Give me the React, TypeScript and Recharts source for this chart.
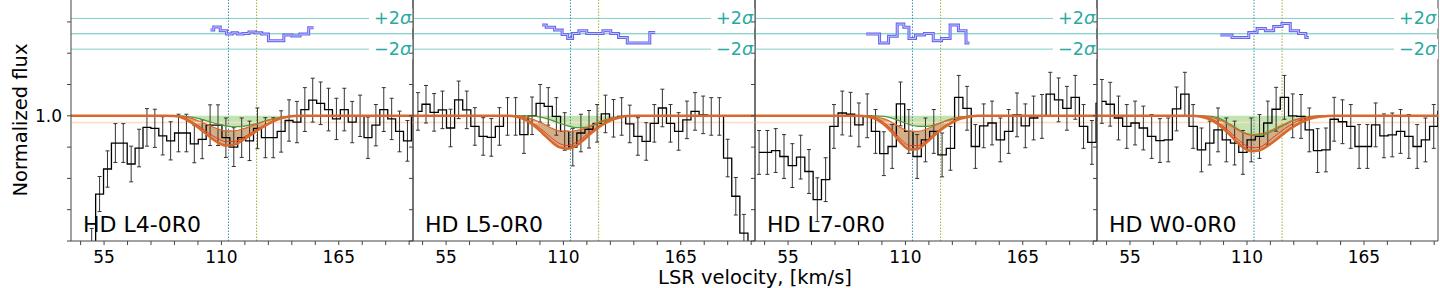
import React from "react";
import {
  ComposedChart,
  Line,
  Area,
  XAxis,
  YAxis,
  ReferenceLine,
  ErrorBar,
} from "recharts";

const FONT = "DejaVu Sans";

// axes
const X_DOMAIN: [number, number] = [39.5, 199.8];
const Y_DOMAIN: [number, number] = [0.6, 1.37];
const X_TICKS = [44, 55, 66, 77, 88, 99, 110, 121, 132, 143, 154, 165, 176, 187, 198];
const X_LABELED = [55, 110, 165];
const Y_TICKS = [0.6, 0.7, 0.8, 0.9, 1.0, 1.1, 1.2, 1.3];
const V_COMP_A = 113.3;
const V_COMP_B = 126.5;
const RES_ZERO = 1.262;
const RES_PLUS = 1.311;
const RES_MINUS = 1.213;

const PANEL_NAMES = ["HD L4-0R0", "HD L5-0R0", "HD L7-0R0", "HD W0-0R0"];

// spectra (bin centre velocity, flux, 1 sigma)
const P1_V = [38.1, 41.8, 45.5, 49.2, 52.9, 56.6, 60.3, 64.0, 67.7, 71.4, 75.1, 78.8, 82.5, 86.2, 89.9, 93.6, 97.3, 101.0, 104.7, 108.4, 112.1, 115.8, 119.5, 123.2, 126.9, 130.6, 134.3, 138.0, 141.7, 145.4, 149.1, 152.8, 156.5, 160.2, 163.9, 167.6, 171.3, 175.0, 178.7, 182.4, 186.1, 189.8, 193.5, 197.2, 200.9];
const P1_F = [0.4, 0.45, 0.5, 0.58, 0.75, 0.83, 0.913, 0.913, 0.846, 0.897, 0.963, 0.96, 0.936, 0.92, 0.945, 0.945, 0.91, 0.925, 0.97, 0.97, 0.93, 0.9, 0.93, 0.92, 0.96, 0.93, 0.93, 0.95, 0.985, 0.98, 1.02, 1.05, 1.04, 1.02, 0.99, 1.02, 0.98, 1.0, 0.93, 0.97, 1.02, 0.99, 0.95, 0.92, 1.0];
const P1_E = [0.05, 0.05, 0.05, 0.06, 0.056, 0.058, 0.062, 0.062, 0.057, 0.06, 0.06, 0.061, 0.061, 0.061, 0.06, 0.06, 0.06, 0.062, 0.065, 0.065, 0.063, 0.062, 0.063, 0.063, 0.065, 0.064, 0.064, 0.066, 0.066, 0.066, 0.07, 0.07, 0.068, 0.068, 0.066, 0.068, 0.066, 0.066, 0.066, 0.066, 0.07, 0.066, 0.065, 0.065, 0.066];

const P2_V = [41.8, 45.6, 49.4, 53.3, 57.1, 60.9, 64.7, 68.5, 72.4, 76.2, 80.0, 83.8, 87.6, 91.5, 95.3, 99.1, 102.9, 106.7, 110.6, 114.4, 118.2, 122.0, 125.8, 129.7, 133.5, 137.3, 141.1, 144.9, 148.8, 152.6, 156.4, 160.2, 164.0, 167.9, 171.7, 175.5, 179.3, 183.1, 187.0, 190.8, 194.6, 198.4];
const P2_F = [1.014, 1.037, 1.011, 1.019, 0.961, 1.051, 1.019, 0.966, 0.934, 0.931, 0.966, 0.998, 0.998, 0.94, 1.0, 1.04, 1.03, 0.998, 0.95, 0.9, 0.945, 0.957, 0.976, 1.006, 0.992, 0.998, 0.974, 0.934, 0.918, 0.976, 1.025, 0.976, 0.95, 0.987, 1.014, 1.003, 0.998, 0.998, 0.865, 0.743, 0.625, 0.5];
const P2_E = [0.06, 0.06, 0.06, 0.06, 0.06, 0.06, 0.06, 0.06, 0.06, 0.06, 0.06, 0.06, 0.06, 0.06, 0.06, 0.06, 0.06, 0.06, 0.06, 0.06, 0.06, 0.06, 0.06, 0.06, 0.06, 0.06, 0.06, 0.06, 0.06, 0.06, 0.06, 0.06, 0.06, 0.06, 0.06, 0.06, 0.06, 0.06, 0.06, 0.06, 0.06, 0.06];

const P3_V = [41.4, 45.3, 49.2, 53.1, 57.0, 60.9, 64.8, 68.7, 72.6, 76.5, 80.4, 84.3, 88.2, 92.1, 96.0, 99.9, 103.8, 107.7, 111.6, 115.5, 119.4, 123.3, 127.2, 131.1, 135.0, 138.9, 142.8, 146.7, 150.6, 154.5, 158.4, 162.3, 166.2, 170.1, 174.0, 177.9, 181.8, 185.7, 189.6, 193.5, 197.4, 201.3];
const P3_F = [0.883, 0.883, 0.889, 0.87, 0.841, 0.868, 0.822, 0.732, 0.796, 0.966, 1.009, 1.005, 0.971, 1.0, 0.95, 0.879, 0.902, 1.038, 0.95, 0.87, 0.923, 0.95, 0.875, 0.896, 1.059, 1.024, 0.902, 0.968, 0.977, 0.923, 0.95, 1.003, 0.968, 0.993, 0.998, 1.069, 1.051, 1.024, 1.059, 0.966, 0.915, 1.04];
const P3_E = [0.07, 0.07, 0.07, 0.07, 0.07, 0.07, 0.07, 0.07, 0.07, 0.07, 0.07, 0.07, 0.07, 0.07, 0.07, 0.07, 0.07, 0.07, 0.07, 0.07, 0.07, 0.07, 0.07, 0.07, 0.07, 0.07, 0.07, 0.07, 0.07, 0.07, 0.07, 0.07, 0.07, 0.07, 0.07, 0.07, 0.07, 0.07, 0.07, 0.07, 0.07, 0.07];

const P4_V = [41.8, 45.7, 49.6, 53.5, 57.4, 61.3, 65.2, 69.1, 73.0, 76.9, 80.8, 84.7, 88.6, 92.5, 96.4, 100.3, 104.2, 108.1, 112.0, 115.9, 119.8, 123.7, 127.6, 131.5, 135.4, 139.3, 143.2, 147.1, 151.0, 154.9, 158.8, 162.7, 166.6, 170.5, 174.4, 178.3, 182.2, 186.1, 190.0, 193.9, 197.8, 201.7];
const P4_F = [1.046, 1.037, 0.993, 0.966, 0.977, 0.961, 0.934, 0.921, 0.923, 1.022, 1.069, 0.966, 0.891, 0.913, 0.955, 0.923, 0.913, 0.883, 0.923, 0.934, 0.977, 1.021, 1.059, 1.0, 0.998, 0.955, 0.889, 0.891, 0.989, 0.981, 0.966, 0.902, 0.902, 0.971, 0.936, 0.939, 0.95, 0.934, 0.902, 0.923, 0.966, 1.014];
const P4_E = [0.07, 0.07, 0.07, 0.07, 0.07, 0.07, 0.07, 0.07, 0.07, 0.07, 0.07, 0.07, 0.07, 0.07, 0.07, 0.07, 0.07, 0.07, 0.07, 0.07, 0.07, 0.07, 0.07, 0.07, 0.07, 0.07, 0.07, 0.07, 0.07, 0.07, 0.07, 0.07, 0.07, 0.07, 0.07, 0.07, 0.07, 0.07, 0.07, 0.07, 0.07, 0.07];

// residuals (shown around RES_ZERO)
const R1_V = [104.9, 107.9, 111.0, 113.8, 116.2, 118.8, 121.5, 124.3, 127.4, 130.4, 133.7, 137.4, 141.1, 145.0, 148.6, 153.2];
const R1_F = [1.274, 1.284, 1.272, 1.261, 1.265, 1.261, 1.263, 1.268, 1.265, 1.261, 1.24, 1.24, 1.258, 1.255, 1.261, 1.281];
const R2_V = [100.0, 103.9, 107.8, 111.0, 113.0, 115.5, 119.0, 122.9, 126.8, 130.3, 134.1, 137.6, 142.3, 148.0, 153.0];
const R2_F = [1.29, 1.283, 1.274, 1.26, 1.247, 1.263, 1.272, 1.263, 1.263, 1.272, 1.263, 1.25, 1.233, 1.233, 1.266];
const R3_V = [91.5, 95.9, 99.9, 104.3, 108.0, 110.5, 112.8, 116.7, 121.2, 124.9, 129.0, 132.9, 136.8, 140.0];
const R3_F = [1.261, 1.261, 1.233, 1.254, 1.293, 1.283, 1.247, 1.258, 1.263, 1.24, 1.247, 1.29, 1.272, 1.233];
const R4_V = [97.5, 101.0, 104.9, 108.9, 112.8, 116.7, 120.6, 124.5, 128.4, 132.3, 136.2, 139.1];
const R4_F = [1.258, 1.258, 1.25, 1.25, 1.266, 1.279, 1.272, 1.285, 1.295, 1.272, 1.263, 1.25];

// model profiles
const PROF_V = [39.5, 84, 88, 92, 96, 100, 104, 108, 112, 116, 120, 124, 128, 132, 136, 140, 144, 148, 152, 199.8];
const M1_LO = [1, 1, 0.999, 0.993, 0.978, 0.958, 0.936, 0.916, 0.905, 0.908, 0.922, 0.94, 0.958, 0.974, 0.987, 0.995, 0.999, 1, 1, 1];
const M1_HI = [1, 1, 1, 0.998, 0.992, 0.982, 0.97, 0.959, 0.952, 0.952, 0.958, 0.967, 0.977, 0.986, 0.993, 0.997, 1, 1, 1, 1];
const M1_GR = [1, 1, 1, 0.999, 0.996, 0.99, 0.982, 0.974, 0.968, 0.965, 0.966, 0.971, 0.978, 0.986, 0.993, 0.997, 0.999, 1, 1, 1];
const M1_RED = [1, 1, 0.999, 0.995, 0.982, 0.965, 0.945, 0.928, 0.918, 0.918, 0.93, 0.946, 0.962, 0.977, 0.988, 0.995, 0.999, 1, 1, 1];
const M2_LO = [1, 1, 0.997, 0.988, 0.97, 0.946, 0.92, 0.9, 0.895, 0.905, 0.926, 0.95, 0.97, 0.985, 0.994, 0.999, 1, 1, 1, 1];
const M2_HI = [1, 1, 1, 0.996, 0.988, 0.976, 0.962, 0.952, 0.95, 0.953, 0.96, 0.972, 0.984, 0.992, 0.997, 1, 1, 1, 1, 1];
const M2_GR = [1, 1, 1, 1, 0.999, 0.995, 0.987, 0.977, 0.968, 0.962, 0.963, 0.97, 0.98, 0.989, 0.995, 0.999, 1, 1, 1, 1];
const M2_RED = [1, 1, 0.998, 0.99, 0.975, 0.955, 0.932, 0.912, 0.905, 0.915, 0.935, 0.955, 0.973, 0.987, 0.995, 0.999, 1, 1, 1, 1];
const M3_LO = [1, 1, 1, 0.998, 0.99, 0.972, 0.945, 0.913, 0.892, 0.895, 0.915, 0.94, 0.962, 0.979, 0.991, 0.997, 1, 1, 1, 1];
const M3_HI = [1, 1, 1, 1, 0.997, 0.99, 0.978, 0.962, 0.95, 0.95, 0.958, 0.97, 0.982, 0.991, 0.996, 0.999, 1, 1, 1, 1];
const M3_GR = [1, 1, 1, 1, 1, 0.998, 0.992, 0.982, 0.972, 0.966, 0.966, 0.972, 0.981, 0.99, 0.996, 0.999, 1, 1, 1, 1];
const M3_RED = [1, 1, 1, 0.999, 0.993, 0.978, 0.953, 0.924, 0.905, 0.905, 0.922, 0.945, 0.966, 0.982, 0.992, 0.998, 1, 1, 1, 1];
const M4_LO = [1, 1, 0.998, 0.99, 0.975, 0.952, 0.925, 0.9, 0.887, 0.89, 0.905, 0.925, 0.947, 0.966, 0.981, 0.991, 0.997, 0.999, 1, 1];
const M4_HI = [1, 1, 1, 0.997, 0.99, 0.978, 0.962, 0.947, 0.94, 0.942, 0.95, 0.962, 0.975, 0.986, 0.993, 0.997, 0.999, 1, 1, 1];
const M4_GR = [1, 1, 1, 0.999, 0.994, 0.982, 0.965, 0.948, 0.938, 0.937, 0.945, 0.958, 0.972, 0.985, 0.993, 0.998, 1, 1, 1, 1];
const M4_RED = [1, 1, 0.999, 0.993, 0.98, 0.96, 0.935, 0.912, 0.898, 0.9, 0.918, 0.94, 0.96, 0.977, 0.989, 0.996, 0.999, 1, 1, 1];

const PANELS = [
  { v: P1_V, f: P1_F, e: P1_E, rv: R1_V, rf: R1_F, lo: M1_LO, hi: M1_HI, gr: M1_GR, red: M1_RED },
  { v: P2_V, f: P2_F, e: P2_E, rv: R2_V, rf: R2_F, lo: M2_LO, hi: M2_HI, gr: M2_GR, red: M2_RED },
  { v: P3_V, f: P3_F, e: P3_E, rv: R3_V, rf: R3_F, lo: M3_LO, hi: M3_HI, gr: M3_GR, red: M3_RED },
  { v: P4_V, f: P4_F, e: P4_E, rv: R4_V, rf: R4_F, lo: M4_LO, hi: M4_HI, gr: M4_GR, red: M4_RED },
];

// panel edges in the page (plot area), shared spines between neighbours
const PANEL_EDGES = [71, 413, 755, 1097, 1438];
const PLOT_H = 241;
const SIDE = 24;
const ML_FIRST = 71;

function SigmaLabel(props: any) {
  const { viewBox, sign } = props;
  if (!viewBox) return null;
  const x = viewBox.x + viewBox.width - 2;
  const y = viewBox.y;
  return (
    <g>
      <rect x={x - 42} y={y - 10} width={44} height={20} fill="#fff" />
      <text x={x} y={y} textAnchor="end" dominantBaseline="central" fontSize={17.5} fontFamily={FONT} fill="#26aaa2">
        {sign}2<tspan fontStyle="italic">σ</tspan>
      </text>
    </g>
  );
}

function NameLabel(props: any) {
  const { viewBox, text } = props;
  if (!viewBox) return null;
  return (
    <text x={viewBox.x + 12} y={viewBox.y - 9} fontSize={22} fontFamily={FONT} fill="#000">
      {text}
    </text>
  );
}

function Panel({ idx }: { idx: number }) {
  const p = PANELS[idx];
  const ml = idx === 0 ? ML_FIRST : SIDE;
  const w = PANEL_EDGES[idx + 1] - PANEL_EDGES[idx];
  const spec = p.v.map((v, i) => ({ v, f: p.f[i], e: p.e[i] }));
  const res = p.rv.map((v, i) => ({ v, r: p.rf[i] }));
  const prof = PROF_V.map((v, i) => ({
    v,
    lo: p.lo[i],
    hi: p.hi[i],
    gr: p.gr[i],
    red: p.red[i],
    band: [p.lo[i], p.hi[i]],
    gband: [p.gr[i], 1],
  }));

  return (
    <div className={`panel-${idx}`} style={{ position: "absolute", left: PANEL_EDGES[idx] - ml, top: 0 }}>
      <ComposedChart
        width={w + ml + SIDE}
        height={288}
        margin={{ top: 0, right: SIDE, bottom: 0, left: 0 }}
      >
        <XAxis
          type="number"
          dataKey="v"
          domain={X_DOMAIN}
          allowDataOverflow
          ticks={X_TICKS}
          interval={0}
          tickFormatter={(t: number) => (X_LABELED.includes(t) ? String(t) : "")}
          height={288 - PLOT_H}
          tickSize={4}
          tickMargin={6}
          stroke="#444"
          tick={{ fill: "#000", fontSize: 17, fontFamily: FONT }}
        />
        <YAxis
          type="number"
          domain={Y_DOMAIN}
          allowDataOverflow
          ticks={Y_TICKS}
          interval={0}
          tickFormatter={(t: number) => (idx === 0 && Math.abs(t - 1) < 1e-6 ? "1.0" : "")}
          width={ml}
          tickSize={4}
          tickMargin={5}
          stroke="#444"
          tick={{ fill: "#000", fontSize: 17, fontFamily: FONT }}
        />
        <ReferenceLine x={X_DOMAIN[1]} stroke="#444" strokeWidth={1} />

        <Area data={prof} dataKey="band" type="monotone" stroke="none" fill="#c99a68" fillOpacity={0.8} isAnimationActive={false} />
        <Area data={prof} dataKey="gband" type="monotone" stroke="none" fill="#a6d98e" fillOpacity={0.7} isAnimationActive={false} />

        <ReferenceLine y={RES_PLUS} stroke="#7fd3c9" strokeWidth={1} label={<SigmaLabel sign="+" />} />
        <ReferenceLine y={RES_ZERO} stroke="#5fc4ba" strokeWidth={1} />
        <ReferenceLine y={RES_MINUS} stroke="#7fd3c9" strokeWidth={1} label={<SigmaLabel sign="−" />} />
        <ReferenceLine y={0.979} stroke="#ffdcc0" strokeWidth={1.5} />

        <ReferenceLine x={V_COMP_A} stroke="#3b8fa8" strokeDasharray="1.5 1.5" strokeWidth={1} />
        <ReferenceLine x={V_COMP_B} stroke="#a8a83a" strokeDasharray="1.5 1.5" strokeWidth={1} />
        <ReferenceLine y={Y_DOMAIN[0]} stroke="none" label={<NameLabel text={PANEL_NAMES[idx]} />} />

        <Line data={res} dataKey="r" type="step" stroke="#6565ee" strokeWidth={3} dot={false} isAnimationActive={false} />
        <Line data={res} dataKey="r" type="step" stroke="#c4c4ff" strokeWidth={1} dot={false} isAnimationActive={false} />

        <Line data={spec} dataKey="f" type="step" stroke="#000" strokeWidth={1.3} dot={false} isAnimationActive={false}>
          <ErrorBar dataKey="e" direction="y" width={2} stroke="#333" strokeWidth={1} />
        </Line>

        <Line data={prof} dataKey="gr" type="monotone" stroke="#4f9a3c" strokeWidth={1.2} dot={false} isAnimationActive={false} />
        <Line data={prof} dataKey="red" type="monotone" stroke="#e83a22" strokeWidth={1} dot={false} isAnimationActive={false} />
        <Line data={prof} dataKey="hi" type="monotone" stroke="#d9692a" strokeWidth={1.2} dot={false} isAnimationActive={false} />
        <Line data={prof} dataKey="lo" type="monotone" stroke="#d9692a" strokeWidth={2.5} dot={false} isAnimationActive={false} />
      </ComposedChart>
    </div>
  );
}

export default function App() {
  return (
    <div style={{ position: "absolute", left: 0, top: 0, width: 1440, height: 288, background: "#fff", overflow: "hidden" }}>
      <style>{PANEL_NAMES.map((_, i) => `.panel-${i} .recharts-errorBars { clip-path: url(#eb-clip-${i}); }`).join("\n")}</style>
      <svg width={0} height={0} style={{ position: "absolute" }}>
        <defs>
          {PANEL_NAMES.map((_, i) => (
            <clipPath key={i} id={`eb-clip-${i}`} clipPathUnits="userSpaceOnUse">
              <rect x={i === 0 ? ML_FIRST : SIDE} y={0} width={PANEL_EDGES[i + 1] - PANEL_EDGES[i]} height={PLOT_H} />
            </clipPath>
          ))}
        </defs>
      </svg>
      {PANEL_NAMES.map((_, i) => (
        <Panel key={i} idx={i} />
      ))}
      <svg width={1440} height={288} style={{ position: "absolute", left: 0, top: 0, pointerEvents: "none" }}>
        <text x={20} y={120} transform="rotate(-90 20 120)" textAnchor="middle" dominantBaseline="central" fontSize={19.5} fontFamily={FONT} fill="#000">
          Normalized flux
        </text>
        <text x={755} y={284} textAnchor="middle" fontSize={19.5} fontFamily={FONT} fill="#000">
          LSR velocity, [km/s]
        </text>
      </svg>
    </div>
  );
}
